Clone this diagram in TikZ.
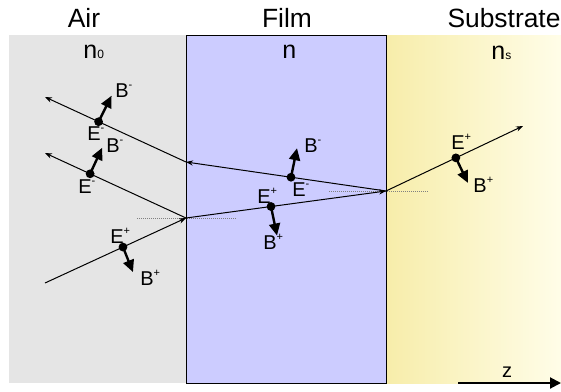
\documentclass[tikz,border=0pt]{standalone}
\usepackage{fontspec}
\setmainfont{Liberation Sans}
\usetikzlibrary{arrows.meta, calc}
\definecolor{airgray}{HTML}{E5E5E5}
\definecolor{filmblue}{HTML}{CCCCFF}
\definecolor{subyellow}{HTML}{F7EDAA}
\definecolor{subwhite}{HTML}{FFFDE8}
\newcommand{\chg}[1]{\raisebox{0.85ex}{\fontsize{5.5}{6}\selectfont #1}}
\newcommand{\ind}[1]{{\fontsize{6}{6}\selectfont #1}}

\begin{document}
\begin{tikzpicture}[x=0.5pt, y=-0.5pt, >=stealth,
  ray/.style={line width=0.5pt, -{Stealth[length=3.5pt,width=2.6pt]}},
  field/.style={line width=1.2pt, -{Triangle[length=6pt,width=5.5pt]}},
  zaxis/.style={line width=1pt, -{Triangle[length=5.5pt,width=5.5pt]}},
  dot/.style={circle, fill=black, inner sep=0pt, minimum size=4.4pt},
  title/.style={font=\fontsize{13.2}{15}\selectfont, anchor=base, inner sep=0pt},
  idx/.style={font=\fontsize{12.5}{14}\selectfont, anchor=base west, inner sep=0pt},
  lbl/.style={font=\fontsize{10}{12}\selectfont, anchor=base west, inner sep=0pt},
  guide/.style={gray, line width=0.4pt, dash pattern=on 0.5pt off 0.5pt}]

  \useasboundingbox (0,0) rectangle (561,391);

  \fill[airgray] (9,35) rectangle (186,383);
  \shade[left color=subyellow, right color=subwhite] (386,35) rectangle (561,383);
  \filldraw[fill=filmblue, draw=black, line width=0.5pt] (186,35) rectangle (386,383);

  \node[title] (air) at (84,27) {Air};
  \node[title] (film) at (287,27) {Film};
  \node[title] (sub) at (504,27) {Substrate};
  \node[idx] (n0) at (83,58) {n\ind{0}};
  \node[idx] (n1) at (282,58) {n};
  \node[idx] (ns) at (491,59) {n\ind{s}};

  \coordinate (s0) at (45,283);
  \coordinate (p1) at (186,218);
  \coordinate (p2) at (386,191);
  \coordinate (q1) at (186,162);
  \coordinate (r1) at (45,153);
  \coordinate (r2) at (45,97);
  \coordinate (t1) at (523,126);

  \draw[guide] ($(p1)+(-49,0)$) -- ($(p1)+(50,0)$);
  \draw[guide] ($(p2)+(-57,0)$) -- ($(p2)+(42,0)$);

  \draw[ray] (s0) -- (p1);
  \draw[ray] (p1) -- (r1);
  \draw[ray] (p1) -- (p2);
  \draw[ray] (p2) -- (q1);
  \draw[ray] (q1) -- (r2);
  \draw[ray] (p2) -- (t1);

  \node[dot] (e1) at ($(s0)!0.553!(p1)$) {};
  \node[dot] (e2) at ($(p1)!0.68!(r1)$) {};
  \node[dot] (e3) at ($(q1)!0.62!(r2)$) {};
  \node[dot] (e4) at ($(p1)!0.425!(p2)$) {};
  \node[dot] (e5) at ($(p2)!0.475!(q1)$) {};
  \node[dot] (e6) at ($(p2)!0.51!(t1)$) {};

  \node[lbl] (le1) at (110,243) {E\chg{+}};
  \node[lbl] (lb1) at (140,285) {B\chg{+}};
  \node[lbl] (le2) at (78,193) {E\chg{-}};
  \node[lbl] (lb2) at (106,152) {B\chg{-}};
  \node[lbl] (le3) at (87,140) {E\chg{-}};
  \node[lbl] (lb3) at (115,97) {B\chg{-}};
  \node[lbl] (le4) at (257,203) {E\chg{+}};
  \node[lbl] (lb4) at (263,249) {B\chg{+}};
  \node[lbl] (le5) at (292,196) {E\chg{-}};
  \node[lbl] (lb5) at (304,152) {B\chg{-}};
  \node[lbl] (le6) at (451,149) {E\chg{+}};
  \node[lbl] (lb6) at (473,192) {B\chg{+}};

  \coordinate (b1) at ($(e1)+(10,25)$);
  \coordinate (b2) at ($(e2)+(12,-26)$);
  \coordinate (b3) at ($(e3)+(13,-26)$);
  \coordinate (b4) at ($(e4)+(6,29)$);
  \coordinate (b5) at ($(e5)+(6,-29)$);
  \coordinate (b6) at ($(e6)+(12,25)$);
  \foreach \i in {1,...,6}
    \draw[field] (e\i.center) -- (b\i);

  \coordinate (z0) at (458,383);
  \coordinate (z1) at (561,383);
  \draw[zaxis] (z0) -- (z1);
  \node[lbl, anchor=base] (zl) at (507,377) {z};
\end{tikzpicture}
\end{document}
